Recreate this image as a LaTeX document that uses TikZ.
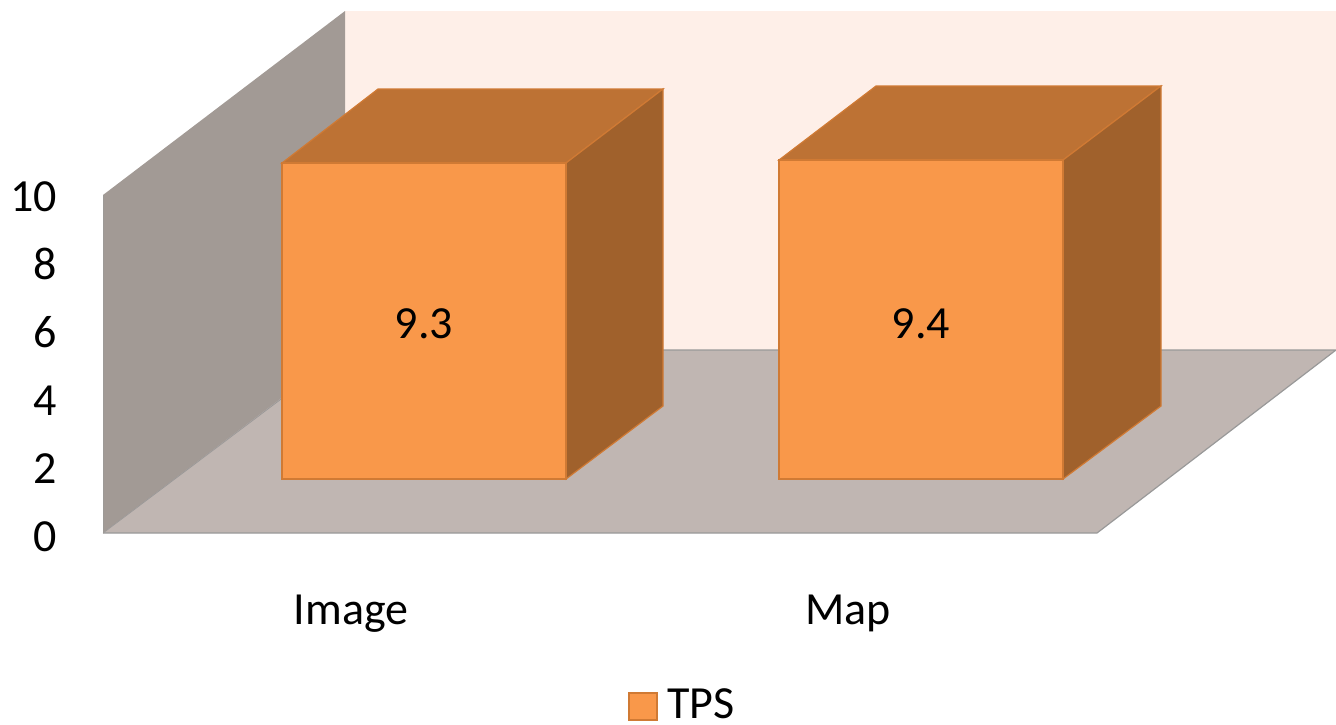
\documentclass[tikz,border=0pt]{standalone}
\usepackage{fontspec}
\setmainfont{Carlito}
\definecolor{backwall}{HTML}{FEEFE8}
\definecolor{leftwall}{HTML}{A29A95}
\definecolor{floorc}{HTML}{C0B6B2}
\definecolor{floorline}{HTML}{999999}
\definecolor{barfront}{HTML}{F9984A}
\definecolor{bartop}{HTML}{BD7234}
\definecolor{barside}{HTML}{A0612C}
\definecolor{barline}{HTML}{D07A34}
\begin{document}
\begin{tikzpicture}[x=1pt,y=-1pt,
  lbl/.style={inner sep=0pt,font=\fontsize{46}{55}\selectfont},
  face/.style={draw=barline,line width=1.2pt,line join=miter}]
\useasboundingbox (0,0) rectangle (1336,724);
% walls and floor
\fill[backwall] (345,11) rectangle (1336,350);
\fill[leftwall] (103,195) -- (345,11) -- (345,351) -- (103,533) -- cycle;
\fill[floorc] (103,533) -- (1097,533) -- (1336,350) -- (345,350) -- cycle;
\draw[floorline,line width=1.2pt] (345,350) -- (1336,350) -- (1097,533) -- (103,533);
\draw[floorline!80!leftwall,line width=0.8pt] (103,533) -- (345,351);
\draw[floorline!60!leftwall,line width=1pt] (103,195) -- (103,533);
% bar Image
\filldraw[face,fill=bartop] (282,163) -- (378,89) -- (663,89) -- (566,163) -- cycle;
\filldraw[face,fill=barside] (566,163) -- (663,89) -- (663,406) -- (566,479) -- cycle;
\filldraw[face,fill=barfront] (282,163) rectangle (566,479);
% bar Map
\filldraw[face,fill=bartop] (779,160) -- (876,86) -- (1161,86) -- (1063,160) -- cycle;
\filldraw[face,fill=barside] (1063,160) -- (1161,86) -- (1161,406) -- (1063,479) -- cycle;
\filldraw[face,fill=barfront] (779,160) rectangle (1063,479);
% value labels
\node[lbl,anchor=base] (v1) at (424,338) {9.3};
\node[lbl,anchor=base] (v2) at (921,338) {9.4};
% axis labels
\node[lbl,anchor=base east] (y10) at (57,211) {10};
\node[lbl,anchor=base east] (y8) at (57,279) {8};
\node[lbl,anchor=base east] (y6) at (57,347) {6};
\node[lbl,anchor=base east] (y4) at (57,415) {4};
\node[lbl,anchor=base east] (y2) at (57,483) {2};
\node[lbl,anchor=base east] (y0) at (57,551) {0};
% category labels
\node[lbl,anchor=base] (c1) at (351,624) {Image};
\node[lbl,anchor=base] (c2) at (848,624) {Map};
% legend
\filldraw[face,fill=barfront] (629,693) rectangle (657,720);
\node[lbl,anchor=base west] (leg) at (667,718) {TPS};
\end{tikzpicture}
\end{document}
